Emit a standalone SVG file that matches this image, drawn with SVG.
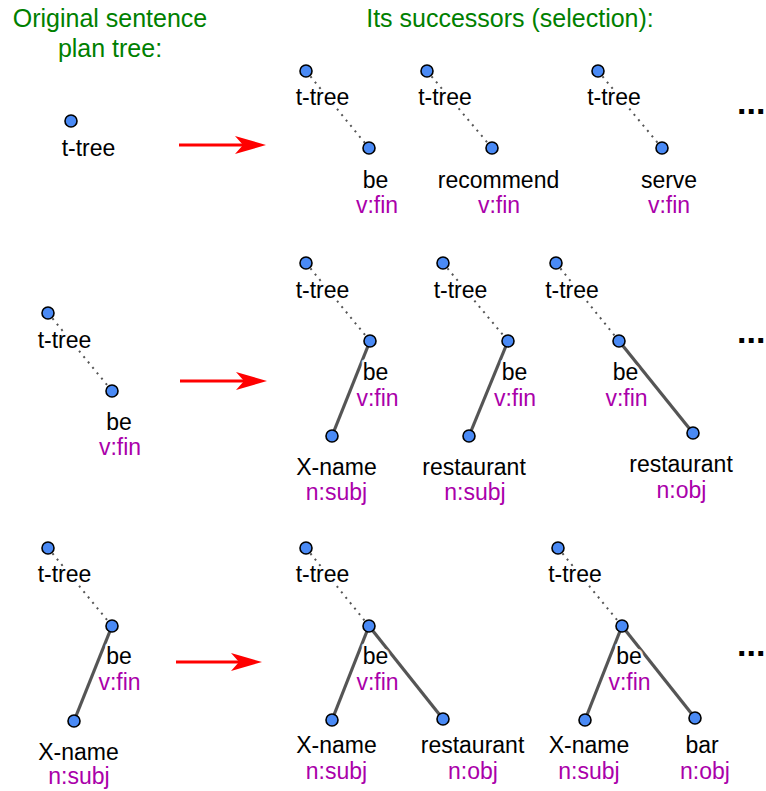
<svg xmlns="http://www.w3.org/2000/svg" width="766" height="791" viewBox="0 0 766 791">
  <style>
    text { font-family: "Liberation Sans", Arial, sans-serif; }
    .title { font-size: 25px; fill: #008000; text-anchor: middle; }
    .lbl { font-size: 23px; fill: #000; text-anchor: middle; paint-order: stroke; stroke: #fff; stroke-opacity: 0.85; stroke-width: 5px; stroke-linejoin: round; }
    .tag { font-size: 23px; fill: #aa00aa; text-anchor: middle; }
    .dots { font-size: 34px; font-weight: bold; fill: #000; }
    .pt { fill: #4a8af5; stroke: #000; stroke-width: 1.6; }
    .dotted { stroke: #555; stroke-width: 2; stroke-dasharray: 2 5; fill: none; }
    .solid { stroke: #555; stroke-width: 3.2; fill: none; }
    .arrow { stroke: #ff0000; stroke-width: 3; fill: none; marker-end: url(#head); }
  </style>
  <defs>
    <marker id="head" markerUnits="userSpaceOnUse" markerWidth="31" markerHeight="18" viewBox="0 0 31 18" refX="15" refY="9" orient="auto">
      <path d="M0,0 L31,9 L0,18 L8,9 Z" fill="#ff0000"/>
    </marker>
  </defs>

  <rect width="766" height="791" fill="#fff"/>

  <!-- headings -->
  <g id="headings">
    <text class="title" x="110" y="27">Original sentence</text>
    <text class="title" x="110" y="57">plan tree:</text>
    <text class="title" x="510" y="27">Its successors (selection):</text>
  </g>

  <!-- edges and transition arrows -->
  <g id="connectors">
    <path class="arrow" d="M179,145 H250"/>
    <path class="arrow" d="M180,381 H251"/>
    <path class="arrow" d="M176,662 H246"/>

    <!-- row 1 -->
    <line class="dotted" x1="306" y1="71" x2="369" y2="148"/>
    <line class="dotted" x1="427" y1="71" x2="492" y2="148"/>
    <line class="dotted" x1="598" y1="71" x2="662" y2="148"/>

    <!-- row 2 -->
    <line class="dotted" x1="48" y1="313" x2="112" y2="391"/>
    <line class="dotted" x1="306" y1="263" x2="370" y2="341"/>
    <line class="solid" x1="370" y1="341" x2="332" y2="436"/>
    <line class="dotted" x1="443" y1="263" x2="508" y2="341"/>
    <line class="solid" x1="508" y1="341" x2="469" y2="436"/>
    <line class="dotted" x1="556" y1="263" x2="619" y2="341"/>
    <line class="solid" x1="619" y1="341" x2="693" y2="433"/>

    <!-- row 3 -->
    <line class="dotted" x1="48" y1="548" x2="112" y2="626"/>
    <line class="solid" x1="112" y1="626" x2="74" y2="721"/>
    <line class="dotted" x1="306" y1="548" x2="369" y2="626"/>
    <line class="solid" x1="369" y1="626" x2="332" y2="720"/>
    <line class="solid" x1="369" y1="626" x2="443" y2="719"/>
    <line class="dotted" x1="558" y1="548" x2="622" y2="626"/>
    <line class="solid" x1="622" y1="626" x2="585" y2="720"/>
    <line class="solid" x1="622" y1="626" x2="695" y2="718"/>
  </g>

  <!-- row 1: source tree -->
  <g id="r1-src-ttree"><circle class="pt" cx="71" cy="121" r="6"/><text class="lbl" x="88.5" y="156">t-tree</text></g>

  <!-- row 1: successors -->
  <g id="r1-a-ttree"><circle class="pt" cx="306" cy="71" r="6"/><text class="lbl" x="322.5" y="105">t-tree</text></g>
  <g id="r1-a-be"><circle class="pt" cx="369" cy="148" r="6"/><text class="lbl" x="375.5" y="188">be</text><text class="tag" x="377" y="213">v:fin</text></g>
  <g id="r1-b-ttree"><circle class="pt" cx="427" cy="71" r="6"/><text class="lbl" x="445" y="105">t-tree</text></g>
  <g id="r1-b-recommend"><circle class="pt" cx="492" cy="148" r="6"/><text class="lbl" x="498.5" y="188">recommend</text><text class="tag" x="499" y="213">v:fin</text></g>
  <g id="r1-c-ttree"><circle class="pt" cx="598" cy="71" r="6"/><text class="lbl" x="614" y="105">t-tree</text></g>
  <g id="r1-c-serve"><circle class="pt" cx="662" cy="148" r="6"/><text class="lbl" x="669" y="188">serve</text><text class="tag" x="669" y="213">v:fin</text></g>
  <g id="r1-more"><text class="dots" x="737" y="114">...</text></g>

  <!-- row 2: source tree -->
  <g id="r2-src-ttree"><circle class="pt" cx="48" cy="313" r="6"/><text class="lbl" x="64.5" y="348">t-tree</text></g>
  <g id="r2-src-be"><circle class="pt" cx="112" cy="391" r="6"/><text class="lbl" x="119" y="430">be</text><text class="tag" x="120" y="455">v:fin</text></g>

  <!-- row 2: successors -->
  <g id="r2-a-ttree"><circle class="pt" cx="306" cy="263" r="6"/><text class="lbl" x="322.5" y="298">t-tree</text></g>
  <g id="r2-a-be"><circle class="pt" cx="370" cy="341" r="6"/><text class="lbl" x="375.5" y="380">be</text><text class="tag" x="377.5" y="406">v:fin</text></g>
  <g id="r2-a-xname"><circle class="pt" cx="332" cy="436" r="6"/><text class="lbl" x="336.5" y="475">X-name</text><text class="tag" x="336.5" y="500">n:subj</text></g>
  <g id="r2-b-ttree"><circle class="pt" cx="443" cy="263" r="6"/><text class="lbl" x="460.5" y="298">t-tree</text></g>
  <g id="r2-b-be"><circle class="pt" cx="508" cy="341" r="6"/><text class="lbl" x="514.5" y="380">be</text><text class="tag" x="515" y="406">v:fin</text></g>
  <g id="r2-b-restaurant"><circle class="pt" cx="469" cy="436" r="6"/><text class="lbl" x="474" y="475">restaurant</text><text class="tag" x="475" y="500">n:subj</text></g>
  <g id="r2-c-ttree"><circle class="pt" cx="556" cy="263" r="6"/><text class="lbl" x="572" y="298">t-tree</text></g>
  <g id="r2-c-be"><circle class="pt" cx="619" cy="341" r="6"/><text class="lbl" x="625.5" y="380">be</text><text class="tag" x="626.5" y="406">v:fin</text></g>
  <g id="r2-c-restaurant"><circle class="pt" cx="693" cy="433" r="6"/><text class="lbl" x="681" y="472">restaurant</text><text class="tag" x="681.5" y="498">n:obj</text></g>
  <g id="r2-more"><text class="dots" x="737" y="343">...</text></g>

  <!-- row 3: source tree -->
  <g id="r3-src-ttree"><circle class="pt" cx="48" cy="548" r="6"/><text class="lbl" x="64.5" y="582">t-tree</text></g>
  <g id="r3-src-be"><circle class="pt" cx="112" cy="626" r="6"/><text class="lbl" x="119" y="664">be</text><text class="tag" x="119.5" y="690">v:fin</text></g>
  <g id="r3-src-xname"><circle class="pt" cx="74" cy="721" r="6"/><text class="lbl" x="78.5" y="760">X-name</text><text class="tag" x="79" y="784">n:subj</text></g>

  <!-- row 3: successors -->
  <g id="r3-a-ttree"><circle class="pt" cx="306" cy="548" r="6"/><text class="lbl" x="322.5" y="582">t-tree</text></g>
  <g id="r3-a-be"><circle class="pt" cx="369" cy="626" r="6"/><text class="lbl" x="375.5" y="664">be</text><text class="tag" x="377.5" y="690">v:fin</text></g>
  <g id="r3-a-xname"><circle class="pt" cx="332" cy="720" r="6"/><text class="lbl" x="336.5" y="753">X-name</text><text class="tag" x="336.5" y="779">n:subj</text></g>
  <g id="r3-a-restaurant"><circle class="pt" cx="443" cy="719" r="6"/><text class="lbl" x="472.5" y="753">restaurant</text><text class="tag" x="473" y="779">n:obj</text></g>
  <g id="r3-b-ttree"><circle class="pt" cx="558" cy="548" r="6"/><text class="lbl" x="575" y="582">t-tree</text></g>
  <g id="r3-b-be"><circle class="pt" cx="622" cy="626" r="6"/><text class="lbl" x="629" y="664">be</text><text class="tag" x="629.5" y="690">v:fin</text></g>
  <g id="r3-b-xname"><circle class="pt" cx="585" cy="720" r="6"/><text class="lbl" x="589" y="753">X-name</text><text class="tag" x="589" y="779">n:subj</text></g>
  <g id="r3-b-bar"><circle class="pt" cx="695" cy="718" r="6"/><text class="lbl" x="702" y="753">bar</text><text class="tag" x="705" y="779">n:obj</text></g>
  <g id="r3-more"><text class="dots" x="737" y="656">...</text></g>
</svg>
